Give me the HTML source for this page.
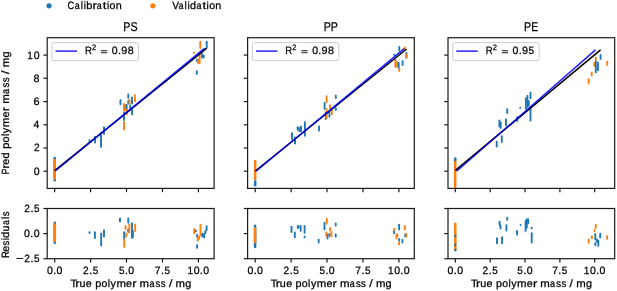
<!DOCTYPE html>
<html><head><meta charset="utf-8"><style>
html,body{margin:0;padding:0;background:#fff;overflow:hidden;}
svg{display:block;}
text{font-family:"Liberation Sans", sans-serif;text-rendering:geometricPrecision;}
svg{will-change:transform;filter:blur(0.3px);}
</style></head><body>
<svg width="617" height="291" viewBox="0 0 617 291">
<rect width="617" height="291" fill="#fff"/>
<clipPath id="cm0"><rect x="47.2" y="37.7" width="166.90" height="150.70"/></clipPath>
<clipPath id="cr0"><rect x="47.2" y="208.5" width="166.90" height="50.20"/></clipPath>
<clipPath id="cm1"><rect x="247.6" y="37.7" width="166.70" height="150.70"/></clipPath>
<clipPath id="cr1"><rect x="247.6" y="208.5" width="166.70" height="50.20"/></clipPath>
<clipPath id="cm2"><rect x="448.0" y="37.7" width="166.70" height="150.70"/></clipPath>
<clipPath id="cr2"><rect x="448.0" y="208.5" width="166.70" height="50.20"/></clipPath>
<g clip-path="url(#cm0)" stroke-width="1.9" stroke-linecap="round">
<line x1="54.7" y1="157.9" x2="54.7" y2="180.2" stroke="#1f77b4" stroke-width="2.5"/>
<line x1="54.7" y1="160.3" x2="54.7" y2="178.5" stroke="#ff7f0e" stroke-width="2.5"/>
<line x1="89.5" y1="140.1" x2="89.5" y2="140.9" stroke="#1f77b4"/>
<line x1="95.1" y1="136.7" x2="95.1" y2="142.6" stroke="#1f77b4"/>
<line x1="101.0" y1="133.2" x2="101.0" y2="146.9" stroke="#1f77b4"/>
<line x1="104.0" y1="127.2" x2="104.0" y2="134.1" stroke="#1f77b4"/>
<line x1="120.5" y1="100.3" x2="120.5" y2="104.3" stroke="#1f77b4"/>
<line x1="124.0" y1="112.6" x2="124.0" y2="120.1" stroke="#1f77b4"/>
<line x1="124.0" y1="121.9" x2="124.0" y2="129.6" stroke="#ff7f0e"/>
<line x1="124.0" y1="103.9" x2="124.0" y2="110.8" stroke="#ff7f0e"/>
<line x1="125.1" y1="104.6" x2="125.1" y2="108.6" stroke="#ff7f0e"/>
<line x1="126.6" y1="104.9" x2="126.6" y2="110.1" stroke="#1f77b4"/>
<line x1="126.6" y1="109.7" x2="126.6" y2="114.4" stroke="#ff7f0e"/>
<line x1="128.3" y1="94.5" x2="128.3" y2="97.8" stroke="#1f77b4"/>
<line x1="128.3" y1="100.9" x2="128.3" y2="103.6" stroke="#1f77b4"/>
<line x1="129.5" y1="99.6" x2="129.5" y2="103.6" stroke="#ff7f0e"/>
<line x1="130.2" y1="105.4" x2="130.2" y2="107.9" stroke="#1f77b4"/>
<line x1="132.0" y1="97.4" x2="132.0" y2="103.6" stroke="#1f77b4"/>
<line x1="132.0" y1="109.7" x2="132.0" y2="114.4" stroke="#1f77b4"/>
<line x1="134.9" y1="95.2" x2="134.9" y2="101.4" stroke="#ff7f0e"/>
<line x1="194.1" y1="52.6" x2="194.1" y2="52.9" stroke="#ff7f0e"/>
<line x1="197.1" y1="59.4" x2="197.1" y2="61.1" stroke="#1f77b4"/>
<line x1="196.8" y1="71.1" x2="196.8" y2="74.1" stroke="#1f77b4"/>
<line x1="198.2" y1="59.4" x2="198.2" y2="63.1" stroke="#ff7f0e"/>
<line x1="199.6" y1="52.6" x2="199.6" y2="63.1" stroke="#ff7f0e"/>
<line x1="200.3" y1="41.6" x2="200.3" y2="48.1" stroke="#ff7f0e"/>
<line x1="201.6" y1="51.9" x2="201.6" y2="53.5" stroke="#1f77b4"/>
<line x1="202.0" y1="54.7" x2="202.0" y2="57.6" stroke="#1f77b4"/>
<line x1="203.7" y1="55.4" x2="203.7" y2="57.6" stroke="#1f77b4"/>
<line x1="206.7" y1="41.6" x2="206.7" y2="47.4" stroke="#1f77b4"/>
</g>
<line x1="54.7" y1="170.6" x2="206.8" y2="48.2" stroke="#000" stroke-width="1.5"/>
<line x1="55.3" y1="171.0" x2="204.4" y2="48.3" stroke="#0000ff" stroke-width="1.5" stroke-opacity="0.88"/>
<g clip-path="url(#cr0)" stroke-width="1.9" stroke-linecap="round">
<line x1="54.8" y1="222.8" x2="54.8" y2="242.7" stroke="#1f77b4" stroke-width="2.5"/>
<line x1="54.8" y1="224.6" x2="54.8" y2="240.9" stroke="#ff7f0e" stroke-width="2.5"/>
<line x1="89.5" y1="232.2" x2="89.5" y2="233.1" stroke="#1f77b4"/>
<line x1="94.9" y1="232.2" x2="94.9" y2="237.9" stroke="#1f77b4"/>
<line x1="101.2" y1="233.5" x2="101.2" y2="245.5" stroke="#1f77b4"/>
<line x1="104.0" y1="230.1" x2="104.0" y2="236.5" stroke="#1f77b4"/>
<line x1="120.0" y1="218.4" x2="120.0" y2="221.4" stroke="#1f77b4"/>
<line x1="124.2" y1="232.2" x2="124.2" y2="239.3" stroke="#1f77b4"/>
<line x1="128.3" y1="218.4" x2="128.3" y2="222.8" stroke="#1f77b4"/>
<line x1="128.3" y1="229.4" x2="128.3" y2="231.7" stroke="#1f77b4"/>
<line x1="132.0" y1="223.2" x2="132.0" y2="237.9" stroke="#1f77b4"/>
<line x1="132.9" y1="230.9" x2="132.9" y2="237.1" stroke="#1f77b4"/>
<line x1="124.2" y1="239.7" x2="124.2" y2="246.9" stroke="#ff7f0e"/>
<line x1="125.6" y1="225.9" x2="125.6" y2="229.1" stroke="#ff7f0e"/>
<line x1="126.3" y1="233.5" x2="126.3" y2="236.5" stroke="#ff7f0e"/>
<line x1="129.3" y1="224.6" x2="129.3" y2="232.4" stroke="#ff7f0e"/>
<line x1="135.2" y1="224.6" x2="135.2" y2="231.1" stroke="#ff7f0e"/>
<line x1="195.8" y1="230.5" x2="195.8" y2="231.3" stroke="#1f77b4"/>
<line x1="197.1" y1="235.0" x2="197.1" y2="236.4" stroke="#1f77b4"/>
<line x1="197.1" y1="245.2" x2="197.1" y2="247.8" stroke="#1f77b4"/>
<line x1="202.2" y1="233.7" x2="202.2" y2="236.4" stroke="#1f77b4"/>
<line x1="204.1" y1="233.7" x2="204.1" y2="237.6" stroke="#1f77b4"/>
<line x1="205.4" y1="230.9" x2="205.4" y2="233.1" stroke="#1f77b4"/>
<line x1="206.6" y1="226.1" x2="206.6" y2="230.0" stroke="#1f77b4"/>
<line x1="194.2" y1="229.3" x2="194.2" y2="233.2" stroke="#ff7f0e"/>
<line x1="197.7" y1="236.9" x2="197.7" y2="240.8" stroke="#ff7f0e"/>
<line x1="199.0" y1="236.3" x2="199.0" y2="238.9" stroke="#ff7f0e"/>
<line x1="200.5" y1="224.8" x2="200.5" y2="235.1" stroke="#ff7f0e"/>
</g>
<g clip-path="url(#cm1)" stroke-width="1.9" stroke-linecap="round">
<line x1="255.2" y1="160.9" x2="255.2" y2="179.3" stroke="#ff7f0e" stroke-width="2.5"/>
<line x1="255.2" y1="181.5" x2="255.2" y2="185.3" stroke="#1f77b4" stroke-width="2.5"/>
<line x1="292.0" y1="133.2" x2="292.0" y2="139.1" stroke="#1f77b4"/>
<line x1="295.0" y1="137.5" x2="295.0" y2="143.5" stroke="#1f77b4"/>
<line x1="295.0" y1="140.9" x2="295.0" y2="143.1" stroke="#1f77b4"/>
<line x1="297.7" y1="127.2" x2="297.7" y2="129.7" stroke="#1f77b4"/>
<line x1="299.2" y1="127.9" x2="299.2" y2="131.1" stroke="#1f77b4"/>
<line x1="301.0" y1="126.4" x2="301.0" y2="131.4" stroke="#1f77b4"/>
<line x1="304.9" y1="122.1" x2="304.9" y2="135.7" stroke="#1f77b4"/>
<line x1="319.0" y1="126.4" x2="319.0" y2="130.5" stroke="#1f77b4"/>
<line x1="324.6" y1="102.9" x2="324.6" y2="108.9" stroke="#1f77b4"/>
<line x1="325.8" y1="112.5" x2="325.8" y2="119.1" stroke="#1f77b4"/>
<line x1="326.6" y1="96.3" x2="326.6" y2="102.3" stroke="#ff7f0e"/>
<line x1="326.6" y1="108.9" x2="326.6" y2="117.9" stroke="#ff7f0e"/>
<line x1="329.4" y1="112.5" x2="329.4" y2="116.7" stroke="#1f77b4"/>
<line x1="330.0" y1="105.3" x2="330.0" y2="108.3" stroke="#ff7f0e"/>
<line x1="331.8" y1="110.7" x2="331.8" y2="114.3" stroke="#ff7f0e"/>
<line x1="335.8" y1="95.7" x2="335.8" y2="98.1" stroke="#1f77b4"/>
<line x1="335.8" y1="108.3" x2="335.8" y2="110.1" stroke="#1f77b4"/>
<line x1="394.3" y1="54.7" x2="394.3" y2="55.1" stroke="#1f77b4"/>
<line x1="395.4" y1="59.6" x2="395.4" y2="67.1" stroke="#ff7f0e"/>
<line x1="397.0" y1="61.9" x2="397.0" y2="66.6" stroke="#ff7f0e"/>
<line x1="399.3" y1="46.9" x2="399.3" y2="50.6" stroke="#1f77b4"/>
<line x1="398.7" y1="62.9" x2="398.7" y2="67.7" stroke="#1f77b4"/>
<line x1="399.3" y1="68.9" x2="399.3" y2="71.1" stroke="#ff7f0e"/>
<line x1="402.6" y1="61.3" x2="402.6" y2="65.0" stroke="#1f77b4"/>
<line x1="404.8" y1="47.5" x2="404.8" y2="50.1" stroke="#ff7f0e"/>
<line x1="406.4" y1="53.0" x2="406.4" y2="57.8" stroke="#1f77b4"/>
<line x1="406.6" y1="54.4" x2="406.6" y2="57.1" stroke="#ff7f0e"/>
</g>
<line x1="255.3" y1="171.0" x2="406.6" y2="49.0" stroke="#000" stroke-width="1.5"/>
<line x1="255.7" y1="171.5" x2="404.2" y2="48.7" stroke="#0000ff" stroke-width="1.5" stroke-opacity="0.88"/>
<g clip-path="url(#cr1)" stroke-width="1.9" stroke-linecap="round">
<line x1="255.1" y1="225.7" x2="255.1" y2="247.0" stroke="#1f77b4" stroke-width="2.5"/>
<line x1="255.1" y1="228.6" x2="255.1" y2="242.1" stroke="#ff7f0e" stroke-width="2.5"/>
<line x1="291.5" y1="226.6" x2="291.5" y2="232.0" stroke="#1f77b4"/>
<line x1="294.8" y1="232.5" x2="294.8" y2="237.2" stroke="#1f77b4"/>
<line x1="297.8" y1="225.9" x2="297.8" y2="228.1" stroke="#1f77b4"/>
<line x1="298.6" y1="226.4" x2="298.6" y2="227.6" stroke="#1f77b4"/>
<line x1="300.7" y1="225.9" x2="300.7" y2="230.7" stroke="#1f77b4"/>
<line x1="304.6" y1="225.9" x2="304.6" y2="232.7" stroke="#1f77b4"/>
<line x1="304.6" y1="236.4" x2="304.6" y2="237.2" stroke="#1f77b4"/>
<line x1="318.7" y1="239.7" x2="318.7" y2="242.5" stroke="#1f77b4"/>
<line x1="324.5" y1="222.7" x2="324.5" y2="229.4" stroke="#1f77b4"/>
<line x1="327.5" y1="234.5" x2="327.5" y2="238.6" stroke="#1f77b4"/>
<line x1="329.4" y1="233.9" x2="329.4" y2="236.1" stroke="#1f77b4"/>
<line x1="335.7" y1="223.4" x2="335.7" y2="225.5" stroke="#1f77b4"/>
<line x1="335.7" y1="234.5" x2="335.7" y2="236.6" stroke="#1f77b4"/>
<line x1="326.8" y1="218.8" x2="326.8" y2="223.5" stroke="#ff7f0e"/>
<line x1="326.3" y1="232.5" x2="326.3" y2="235.9" stroke="#ff7f0e"/>
<line x1="330.1" y1="227.9" x2="330.1" y2="230.7" stroke="#ff7f0e"/>
<line x1="331.4" y1="231.9" x2="331.4" y2="236.6" stroke="#ff7f0e"/>
<line x1="394.1" y1="231.2" x2="394.1" y2="233.3" stroke="#1f77b4"/>
<line x1="399.1" y1="224.6" x2="399.1" y2="229.4" stroke="#1f77b4"/>
<line x1="399.1" y1="239.0" x2="399.1" y2="240.5" stroke="#1f77b4"/>
<line x1="402.4" y1="239.7" x2="402.4" y2="242.4" stroke="#1f77b4"/>
<line x1="405.2" y1="234.4" x2="405.2" y2="236.6" stroke="#1f77b4"/>
<line x1="394.4" y1="228.6" x2="394.4" y2="230.0" stroke="#ff7f0e"/>
<line x1="396.5" y1="234.4" x2="396.5" y2="238.5" stroke="#ff7f0e"/>
<line x1="397.4" y1="234.4" x2="397.4" y2="236.1" stroke="#ff7f0e"/>
<line x1="399.1" y1="242.3" x2="399.1" y2="244.4" stroke="#ff7f0e"/>
<line x1="404.8" y1="225.9" x2="404.8" y2="229.4" stroke="#ff7f0e"/>
<line x1="406.3" y1="233.8" x2="406.3" y2="236.6" stroke="#ff7f0e"/>
</g>
<g clip-path="url(#cm2)" stroke-width="1.9" stroke-linecap="round">
<line x1="455.2" y1="160.0" x2="455.2" y2="187.0" stroke="#ff7f0e" stroke-width="2.5"/>
<line x1="455.2" y1="158.6" x2="455.2" y2="159.9" stroke="#1f77b4" stroke-width="2.5"/>
<line x1="496.7" y1="141.7" x2="496.7" y2="146.6" stroke="#1f77b4"/>
<line x1="499.4" y1="120.5" x2="499.4" y2="126.5" stroke="#1f77b4"/>
<line x1="500.7" y1="122.4" x2="500.7" y2="128.1" stroke="#1f77b4"/>
<line x1="501.8" y1="136.1" x2="501.8" y2="142.1" stroke="#1f77b4"/>
<line x1="506.0" y1="119.4" x2="506.0" y2="125.4" stroke="#1f77b4"/>
<line x1="507.2" y1="109.3" x2="507.2" y2="113.1" stroke="#1f77b4"/>
<line x1="517.2" y1="117.1" x2="517.2" y2="120.9" stroke="#1f77b4"/>
<line x1="520.2" y1="107.8" x2="520.2" y2="107.8" stroke="#1f77b4"/>
<line x1="525.9" y1="98.2" x2="525.9" y2="108.7" stroke="#1f77b4"/>
<line x1="527.4" y1="95.7" x2="527.4" y2="106.9" stroke="#1f77b4"/>
<line x1="528.8" y1="101.3" x2="528.8" y2="105.6" stroke="#1f77b4"/>
<line x1="530.5" y1="92.6" x2="530.5" y2="98.2" stroke="#1f77b4"/>
<line x1="530.5" y1="107.4" x2="530.5" y2="120.5" stroke="#1f77b4"/>
<line x1="588.6" y1="79.3" x2="588.6" y2="83.6" stroke="#ff7f0e"/>
<line x1="591.7" y1="72.6" x2="591.7" y2="75.4" stroke="#ff7f0e"/>
<line x1="594.4" y1="62.7" x2="594.4" y2="66.1" stroke="#ff7f0e"/>
<line x1="595.8" y1="60.7" x2="595.8" y2="72.3" stroke="#1f77b4"/>
<line x1="595.8" y1="57.6" x2="595.8" y2="59.9" stroke="#ff7f0e"/>
<line x1="597.9" y1="62.7" x2="597.9" y2="70.2" stroke="#1f77b4"/>
<line x1="600.6" y1="54.9" x2="600.6" y2="58.9" stroke="#1f77b4"/>
<line x1="607.2" y1="61.7" x2="607.2" y2="65.1" stroke="#ff7f0e"/>
</g>
<line x1="455.4" y1="170.4" x2="600.6" y2="49.9" stroke="#000" stroke-width="1.5"/>
<line x1="456.6" y1="171.3" x2="595.5" y2="49.9" stroke="#0000ff" stroke-width="1.5" stroke-opacity="0.88"/>
<g clip-path="url(#cr2)" stroke-width="1.9" stroke-linecap="round">
<line x1="455.3" y1="223.7" x2="455.3" y2="249.9" stroke="#ff7f0e" stroke-width="2.5"/>
<line x1="455.3" y1="236.0" x2="455.3" y2="236.0" stroke="#1f77b4" stroke-width="2.5"/>
<line x1="455.3" y1="244.8" x2="455.3" y2="244.8" stroke="#1f77b4" stroke-width="2.5"/>
<line x1="455.3" y1="250.0" x2="455.3" y2="250.0" stroke="#1f77b4" stroke-width="2.5"/>
<line x1="497.0" y1="238.3" x2="497.0" y2="243.3" stroke="#1f77b4"/>
<line x1="499.6" y1="221.6" x2="499.6" y2="224.7" stroke="#1f77b4"/>
<line x1="500.5" y1="225.5" x2="500.5" y2="228.6" stroke="#1f77b4"/>
<line x1="502.1" y1="237.3" x2="502.1" y2="243.3" stroke="#1f77b4"/>
<line x1="506.4" y1="225.1" x2="506.4" y2="230.6" stroke="#1f77b4"/>
<line x1="507.2" y1="217.7" x2="507.2" y2="219.8" stroke="#1f77b4"/>
<line x1="517.0" y1="231.0" x2="517.0" y2="234.5" stroke="#1f77b4"/>
<line x1="520.6" y1="225.0" x2="520.6" y2="225.0" stroke="#1f77b4"/>
<line x1="525.6" y1="220.9" x2="525.6" y2="230.9" stroke="#1f77b4"/>
<line x1="526.8" y1="219.1" x2="526.8" y2="227.8" stroke="#1f77b4"/>
<line x1="528.2" y1="219.1" x2="528.2" y2="223.4" stroke="#1f77b4"/>
<line x1="531.7" y1="227.7" x2="531.7" y2="228.4" stroke="#1f77b4"/>
<line x1="531.7" y1="233.3" x2="531.7" y2="242.6" stroke="#1f77b4"/>
<line x1="595.3" y1="234.3" x2="595.3" y2="239.5" stroke="#1f77b4"/>
<line x1="595.3" y1="243.3" x2="595.3" y2="245.3" stroke="#1f77b4"/>
<line x1="597.0" y1="239.4" x2="597.0" y2="242.1" stroke="#1f77b4"/>
<line x1="598.3" y1="240.7" x2="598.3" y2="245.9" stroke="#1f77b4"/>
<line x1="600.2" y1="233.7" x2="600.2" y2="237.6" stroke="#1f77b4"/>
<line x1="588.7" y1="239.4" x2="588.7" y2="242.7" stroke="#ff7f0e"/>
<line x1="591.9" y1="236.3" x2="591.9" y2="238.3" stroke="#ff7f0e"/>
<line x1="594.5" y1="229.9" x2="594.5" y2="231.3" stroke="#ff7f0e"/>
<line x1="595.7" y1="224.8" x2="595.7" y2="228.1" stroke="#ff7f0e"/>
<line x1="607.2" y1="236.3" x2="607.2" y2="238.9" stroke="#ff7f0e"/>
</g>
<rect x="47.2" y="37.7" width="166.90" height="150.70" fill="none" stroke="#1a1a1a" stroke-width="1.2"/>
<rect x="47.2" y="208.5" width="166.90" height="50.20" fill="none" stroke="#1a1a1a" stroke-width="1.2"/>
<line x1="54.7" y1="188.4" x2="54.7" y2="192.20000000000002" stroke="#1a1a1a" stroke-width="1.2"/>
<line x1="54.7" y1="258.7" x2="54.7" y2="262.5" stroke="#1a1a1a" stroke-width="1.2"/>
<line x1="90.6" y1="188.4" x2="90.6" y2="192.20000000000002" stroke="#1a1a1a" stroke-width="1.2"/>
<line x1="90.6" y1="258.7" x2="90.6" y2="262.5" stroke="#1a1a1a" stroke-width="1.2"/>
<line x1="126.5" y1="188.4" x2="126.5" y2="192.20000000000002" stroke="#1a1a1a" stroke-width="1.2"/>
<line x1="126.5" y1="258.7" x2="126.5" y2="262.5" stroke="#1a1a1a" stroke-width="1.2"/>
<line x1="162.5" y1="188.4" x2="162.5" y2="192.20000000000002" stroke="#1a1a1a" stroke-width="1.2"/>
<line x1="162.5" y1="258.7" x2="162.5" y2="262.5" stroke="#1a1a1a" stroke-width="1.2"/>
<line x1="198.4" y1="188.4" x2="198.4" y2="192.20000000000002" stroke="#1a1a1a" stroke-width="1.2"/>
<line x1="198.4" y1="258.7" x2="198.4" y2="262.5" stroke="#1a1a1a" stroke-width="1.2"/>
<line x1="43.40" y1="171.2" x2="47.2" y2="171.2" stroke="#1a1a1a" stroke-width="1.2"/>
<line x1="43.40" y1="148.0" x2="47.2" y2="148.0" stroke="#1a1a1a" stroke-width="1.2"/>
<line x1="43.40" y1="124.8" x2="47.2" y2="124.8" stroke="#1a1a1a" stroke-width="1.2"/>
<line x1="43.40" y1="101.6" x2="47.2" y2="101.6" stroke="#1a1a1a" stroke-width="1.2"/>
<line x1="43.40" y1="78.3" x2="47.2" y2="78.3" stroke="#1a1a1a" stroke-width="1.2"/>
<line x1="43.40" y1="55.1" x2="47.2" y2="55.1" stroke="#1a1a1a" stroke-width="1.2"/>
<line x1="43.40" y1="258.7" x2="47.2" y2="258.7" stroke="#1a1a1a" stroke-width="1.2"/>
<line x1="43.40" y1="233.6" x2="47.2" y2="233.6" stroke="#1a1a1a" stroke-width="1.2"/>
<line x1="43.40" y1="208.5" x2="47.2" y2="208.5" stroke="#1a1a1a" stroke-width="1.2"/>
<rect x="247.6" y="37.7" width="166.70" height="150.70" fill="none" stroke="#1a1a1a" stroke-width="1.2"/>
<rect x="247.6" y="208.5" width="166.70" height="50.20" fill="none" stroke="#1a1a1a" stroke-width="1.2"/>
<line x1="255.2" y1="188.4" x2="255.2" y2="192.20000000000002" stroke="#1a1a1a" stroke-width="1.2"/>
<line x1="255.2" y1="258.7" x2="255.2" y2="262.5" stroke="#1a1a1a" stroke-width="1.2"/>
<line x1="291.1" y1="188.4" x2="291.1" y2="192.20000000000002" stroke="#1a1a1a" stroke-width="1.2"/>
<line x1="291.1" y1="258.7" x2="291.1" y2="262.5" stroke="#1a1a1a" stroke-width="1.2"/>
<line x1="327.0" y1="188.4" x2="327.0" y2="192.20000000000002" stroke="#1a1a1a" stroke-width="1.2"/>
<line x1="327.0" y1="258.7" x2="327.0" y2="262.5" stroke="#1a1a1a" stroke-width="1.2"/>
<line x1="363.0" y1="188.4" x2="363.0" y2="192.20000000000002" stroke="#1a1a1a" stroke-width="1.2"/>
<line x1="363.0" y1="258.7" x2="363.0" y2="262.5" stroke="#1a1a1a" stroke-width="1.2"/>
<line x1="398.9" y1="188.4" x2="398.9" y2="192.20000000000002" stroke="#1a1a1a" stroke-width="1.2"/>
<line x1="398.9" y1="258.7" x2="398.9" y2="262.5" stroke="#1a1a1a" stroke-width="1.2"/>
<line x1="243.80" y1="171.2" x2="247.6" y2="171.2" stroke="#1a1a1a" stroke-width="1.2"/>
<line x1="243.80" y1="148.0" x2="247.6" y2="148.0" stroke="#1a1a1a" stroke-width="1.2"/>
<line x1="243.80" y1="124.8" x2="247.6" y2="124.8" stroke="#1a1a1a" stroke-width="1.2"/>
<line x1="243.80" y1="101.6" x2="247.6" y2="101.6" stroke="#1a1a1a" stroke-width="1.2"/>
<line x1="243.80" y1="78.3" x2="247.6" y2="78.3" stroke="#1a1a1a" stroke-width="1.2"/>
<line x1="243.80" y1="55.1" x2="247.6" y2="55.1" stroke="#1a1a1a" stroke-width="1.2"/>
<line x1="243.80" y1="258.7" x2="247.6" y2="258.7" stroke="#1a1a1a" stroke-width="1.2"/>
<line x1="243.80" y1="233.6" x2="247.6" y2="233.6" stroke="#1a1a1a" stroke-width="1.2"/>
<line x1="243.80" y1="208.5" x2="247.6" y2="208.5" stroke="#1a1a1a" stroke-width="1.2"/>
<rect x="448.0" y="37.7" width="166.70" height="150.70" fill="none" stroke="#1a1a1a" stroke-width="1.2"/>
<rect x="448.0" y="208.5" width="166.70" height="50.20" fill="none" stroke="#1a1a1a" stroke-width="1.2"/>
<line x1="455.3" y1="188.4" x2="455.3" y2="192.20000000000002" stroke="#1a1a1a" stroke-width="1.2"/>
<line x1="455.3" y1="258.7" x2="455.3" y2="262.5" stroke="#1a1a1a" stroke-width="1.2"/>
<line x1="490.2" y1="188.4" x2="490.2" y2="192.20000000000002" stroke="#1a1a1a" stroke-width="1.2"/>
<line x1="490.2" y1="258.7" x2="490.2" y2="262.5" stroke="#1a1a1a" stroke-width="1.2"/>
<line x1="525.0" y1="188.4" x2="525.0" y2="192.20000000000002" stroke="#1a1a1a" stroke-width="1.2"/>
<line x1="525.0" y1="258.7" x2="525.0" y2="262.5" stroke="#1a1a1a" stroke-width="1.2"/>
<line x1="559.9" y1="188.4" x2="559.9" y2="192.20000000000002" stroke="#1a1a1a" stroke-width="1.2"/>
<line x1="559.9" y1="258.7" x2="559.9" y2="262.5" stroke="#1a1a1a" stroke-width="1.2"/>
<line x1="594.7" y1="188.4" x2="594.7" y2="192.20000000000002" stroke="#1a1a1a" stroke-width="1.2"/>
<line x1="594.7" y1="258.7" x2="594.7" y2="262.5" stroke="#1a1a1a" stroke-width="1.2"/>
<line x1="444.20" y1="171.2" x2="448.0" y2="171.2" stroke="#1a1a1a" stroke-width="1.2"/>
<line x1="444.20" y1="148.0" x2="448.0" y2="148.0" stroke="#1a1a1a" stroke-width="1.2"/>
<line x1="444.20" y1="124.8" x2="448.0" y2="124.8" stroke="#1a1a1a" stroke-width="1.2"/>
<line x1="444.20" y1="101.6" x2="448.0" y2="101.6" stroke="#1a1a1a" stroke-width="1.2"/>
<line x1="444.20" y1="78.3" x2="448.0" y2="78.3" stroke="#1a1a1a" stroke-width="1.2"/>
<line x1="444.20" y1="55.1" x2="448.0" y2="55.1" stroke="#1a1a1a" stroke-width="1.2"/>
<line x1="444.20" y1="258.7" x2="448.0" y2="258.7" stroke="#1a1a1a" stroke-width="1.2"/>
<line x1="444.20" y1="233.6" x2="448.0" y2="233.6" stroke="#1a1a1a" stroke-width="1.2"/>
<line x1="444.20" y1="208.5" x2="448.0" y2="208.5" stroke="#1a1a1a" stroke-width="1.2"/>
<g font-family="'Liberation Sans', sans-serif" fill="#000" stroke="#000" stroke-width="0.25">
<text y="273.85" font-size="10.60" ><tspan x="47.00" textLength="5.86" lengthAdjust="spacingAndGlyphs">0</tspan><tspan x="53.19" textLength="3.01" lengthAdjust="spacingAndGlyphs">.</tspan><tspan x="56.54" textLength="5.86" lengthAdjust="spacingAndGlyphs">0</tspan></text>
<text y="273.85" font-size="10.60" ><tspan x="82.97" textLength="5.65" lengthAdjust="spacingAndGlyphs">2</tspan><tspan x="89.19" textLength="3.01" lengthAdjust="spacingAndGlyphs">.</tspan><tspan x="92.66" textLength="5.53" lengthAdjust="spacingAndGlyphs">5</tspan></text>
<text y="273.85" font-size="10.60" ><tspan x="118.92" textLength="5.53" lengthAdjust="spacingAndGlyphs">5</tspan><tspan x="124.99" textLength="3.01" lengthAdjust="spacingAndGlyphs">.</tspan><tspan x="128.33" textLength="5.86" lengthAdjust="spacingAndGlyphs">0</tspan></text>
<text y="273.85" font-size="10.60" ><tspan x="154.84" textLength="5.73" lengthAdjust="spacingAndGlyphs">7</tspan><tspan x="160.99" textLength="3.01" lengthAdjust="spacingAndGlyphs">.</tspan><tspan x="164.46" textLength="5.53" lengthAdjust="spacingAndGlyphs">5</tspan></text>
<text y="273.85" font-size="10.60" ><tspan x="187.38" textLength="5.60" lengthAdjust="spacingAndGlyphs">1</tspan><tspan x="193.66" textLength="5.86" lengthAdjust="spacingAndGlyphs">0</tspan><tspan x="199.86" textLength="3.01" lengthAdjust="spacingAndGlyphs">.</tspan><tspan x="203.20" textLength="5.86" lengthAdjust="spacingAndGlyphs">0</tspan></text>
<text y="273.85" font-size="10.60" ><tspan x="247.50" textLength="5.86" lengthAdjust="spacingAndGlyphs">0</tspan><tspan x="253.69" textLength="3.01" lengthAdjust="spacingAndGlyphs">.</tspan><tspan x="257.04" textLength="5.86" lengthAdjust="spacingAndGlyphs">0</tspan></text>
<text y="273.85" font-size="10.60" ><tspan x="283.47" textLength="5.65" lengthAdjust="spacingAndGlyphs">2</tspan><tspan x="289.69" textLength="3.01" lengthAdjust="spacingAndGlyphs">.</tspan><tspan x="293.16" textLength="5.53" lengthAdjust="spacingAndGlyphs">5</tspan></text>
<text y="273.85" font-size="10.60" ><tspan x="319.42" textLength="5.53" lengthAdjust="spacingAndGlyphs">5</tspan><tspan x="325.49" textLength="3.01" lengthAdjust="spacingAndGlyphs">.</tspan><tspan x="328.83" textLength="5.86" lengthAdjust="spacingAndGlyphs">0</tspan></text>
<text y="273.85" font-size="10.60" ><tspan x="355.34" textLength="5.73" lengthAdjust="spacingAndGlyphs">7</tspan><tspan x="361.49" textLength="3.01" lengthAdjust="spacingAndGlyphs">.</tspan><tspan x="364.96" textLength="5.53" lengthAdjust="spacingAndGlyphs">5</tspan></text>
<text y="273.85" font-size="10.60" ><tspan x="387.88" textLength="5.60" lengthAdjust="spacingAndGlyphs">1</tspan><tspan x="394.16" textLength="5.86" lengthAdjust="spacingAndGlyphs">0</tspan><tspan x="400.36" textLength="3.01" lengthAdjust="spacingAndGlyphs">.</tspan><tspan x="403.70" textLength="5.86" lengthAdjust="spacingAndGlyphs">0</tspan></text>
<text y="273.85" font-size="10.60" ><tspan x="447.60" textLength="5.86" lengthAdjust="spacingAndGlyphs">0</tspan><tspan x="453.79" textLength="3.01" lengthAdjust="spacingAndGlyphs">.</tspan><tspan x="457.14" textLength="5.86" lengthAdjust="spacingAndGlyphs">0</tspan></text>
<text y="273.85" font-size="10.60" ><tspan x="482.49" textLength="5.65" lengthAdjust="spacingAndGlyphs">2</tspan><tspan x="488.71" textLength="3.01" lengthAdjust="spacingAndGlyphs">.</tspan><tspan x="492.18" textLength="5.53" lengthAdjust="spacingAndGlyphs">5</tspan></text>
<text y="273.85" font-size="10.60" ><tspan x="517.37" textLength="5.53" lengthAdjust="spacingAndGlyphs">5</tspan><tspan x="523.44" textLength="3.01" lengthAdjust="spacingAndGlyphs">.</tspan><tspan x="526.78" textLength="5.86" lengthAdjust="spacingAndGlyphs">0</tspan></text>
<text y="273.85" font-size="10.60" ><tspan x="552.22" textLength="5.73" lengthAdjust="spacingAndGlyphs">7</tspan><tspan x="558.37" textLength="3.01" lengthAdjust="spacingAndGlyphs">.</tspan><tspan x="561.84" textLength="5.53" lengthAdjust="spacingAndGlyphs">5</tspan></text>
<text y="273.85" font-size="10.60" ><tspan x="583.68" textLength="5.60" lengthAdjust="spacingAndGlyphs">1</tspan><tspan x="589.96" textLength="5.86" lengthAdjust="spacingAndGlyphs">0</tspan><tspan x="596.16" textLength="3.01" lengthAdjust="spacingAndGlyphs">.</tspan><tspan x="599.50" textLength="5.86" lengthAdjust="spacingAndGlyphs">0</tspan></text>
<text y="174.70" font-size="10.60" ><tspan x="33.65" textLength="5.86" lengthAdjust="spacingAndGlyphs">0</tspan></text>
<text y="151.47" font-size="10.60" ><tspan x="33.96" textLength="5.65" lengthAdjust="spacingAndGlyphs">2</tspan></text>
<text y="128.24" font-size="10.60" ><tspan x="33.55" textLength="5.86" lengthAdjust="spacingAndGlyphs">4</tspan></text>
<text y="105.01" font-size="10.60" ><tspan x="33.51" textLength="6.07" lengthAdjust="spacingAndGlyphs">6</tspan></text>
<text y="81.78" font-size="10.60" ><tspan x="33.64" textLength="5.93" lengthAdjust="spacingAndGlyphs">8</tspan></text>
<text y="58.55" font-size="10.60" ><tspan x="27.37" textLength="5.60" lengthAdjust="spacingAndGlyphs">1</tspan><tspan x="33.65" textLength="5.86" lengthAdjust="spacingAndGlyphs">0</tspan></text>
<text y="262.15" font-size="10.60" ><tspan x="16.12" textLength="7.52" lengthAdjust="spacingAndGlyphs">−</tspan><tspan x="24.29" textLength="5.65" lengthAdjust="spacingAndGlyphs">2</tspan><tspan x="30.51" textLength="3.01" lengthAdjust="spacingAndGlyphs">.</tspan><tspan x="33.98" textLength="5.53" lengthAdjust="spacingAndGlyphs">5</tspan></text>
<text y="237.05" font-size="10.60" ><tspan x="24.11" textLength="5.86" lengthAdjust="spacingAndGlyphs">0</tspan><tspan x="30.30" textLength="3.01" lengthAdjust="spacingAndGlyphs">.</tspan><tspan x="33.65" textLength="5.86" lengthAdjust="spacingAndGlyphs">0</tspan></text>
<text y="211.95" font-size="10.60" ><tspan x="24.29" textLength="5.65" lengthAdjust="spacingAndGlyphs">2</tspan><tspan x="30.51" textLength="3.01" lengthAdjust="spacingAndGlyphs">.</tspan><tspan x="33.98" textLength="5.53" lengthAdjust="spacingAndGlyphs">5</tspan></text>
<text y="31.3" font-size="12.72" ><tspan x="123.28" textLength="7.08" lengthAdjust="spacingAndGlyphs">P</tspan><tspan x="130.51" textLength="7.13" lengthAdjust="spacingAndGlyphs">S</tspan></text>
<text y="31.3" font-size="12.72" ><tspan x="323.64" textLength="7.08" lengthAdjust="spacingAndGlyphs">P</tspan><tspan x="330.87" textLength="7.08" lengthAdjust="spacingAndGlyphs">P</tspan></text>
<text y="31.3" font-size="12.72" ><tspan x="524.04" textLength="7.08" lengthAdjust="spacingAndGlyphs">P</tspan><tspan x="531.30" textLength="6.94" lengthAdjust="spacingAndGlyphs">E</tspan></text>
<text y="286.9" font-size="10.60" ><tspan x="70.41" textLength="6.66" lengthAdjust="spacingAndGlyphs">T</tspan><tspan x="75.38" textLength="4.27" lengthAdjust="spacingAndGlyphs">r</tspan><tspan x="79.58" textLength="6.00" lengthAdjust="spacingAndGlyphs">u</tspan><tspan x="85.86" textLength="6.01" lengthAdjust="spacingAndGlyphs">e</tspan> <tspan x="95.31" textLength="6.05" lengthAdjust="spacingAndGlyphs">p</tspan><tspan x="101.56" textLength="5.91" lengthAdjust="spacingAndGlyphs">o</tspan><tspan x="107.82" textLength="2.27" lengthAdjust="spacingAndGlyphs">l</tspan><tspan x="110.62" textLength="5.37" lengthAdjust="spacingAndGlyphs">y</tspan><tspan x="116.42" textLength="9.49" lengthAdjust="spacingAndGlyphs">m</tspan><tspan x="126.10" textLength="6.01" lengthAdjust="spacingAndGlyphs">e</tspan><tspan x="132.22" textLength="4.27" lengthAdjust="spacingAndGlyphs">r</tspan> <tspan x="139.60" textLength="9.49" lengthAdjust="spacingAndGlyphs">m</tspan><tspan x="149.41" textLength="5.00" lengthAdjust="spacingAndGlyphs">a</tspan><tspan x="155.59" textLength="4.79" lengthAdjust="spacingAndGlyphs">s</tspan><tspan x="160.80" textLength="4.79" lengthAdjust="spacingAndGlyphs">s</tspan> <tspan x="168.92" textLength="3.37" lengthAdjust="spacingAndGlyphs">/</tspan> <tspan x="175.62" textLength="9.49" lengthAdjust="spacingAndGlyphs">m</tspan><tspan x="185.30" textLength="6.04" lengthAdjust="spacingAndGlyphs">g</tspan></text>
<text y="286.9" font-size="10.60" ><tspan x="270.71" textLength="6.66" lengthAdjust="spacingAndGlyphs">T</tspan><tspan x="275.68" textLength="4.27" lengthAdjust="spacingAndGlyphs">r</tspan><tspan x="279.88" textLength="6.00" lengthAdjust="spacingAndGlyphs">u</tspan><tspan x="286.16" textLength="6.01" lengthAdjust="spacingAndGlyphs">e</tspan> <tspan x="295.61" textLength="6.05" lengthAdjust="spacingAndGlyphs">p</tspan><tspan x="301.86" textLength="5.91" lengthAdjust="spacingAndGlyphs">o</tspan><tspan x="308.12" textLength="2.27" lengthAdjust="spacingAndGlyphs">l</tspan><tspan x="310.92" textLength="5.37" lengthAdjust="spacingAndGlyphs">y</tspan><tspan x="316.72" textLength="9.49" lengthAdjust="spacingAndGlyphs">m</tspan><tspan x="326.40" textLength="6.01" lengthAdjust="spacingAndGlyphs">e</tspan><tspan x="332.52" textLength="4.27" lengthAdjust="spacingAndGlyphs">r</tspan> <tspan x="339.90" textLength="9.49" lengthAdjust="spacingAndGlyphs">m</tspan><tspan x="349.71" textLength="5.00" lengthAdjust="spacingAndGlyphs">a</tspan><tspan x="355.89" textLength="4.79" lengthAdjust="spacingAndGlyphs">s</tspan><tspan x="361.10" textLength="4.79" lengthAdjust="spacingAndGlyphs">s</tspan> <tspan x="369.22" textLength="3.37" lengthAdjust="spacingAndGlyphs">/</tspan> <tspan x="375.92" textLength="9.49" lengthAdjust="spacingAndGlyphs">m</tspan><tspan x="385.60" textLength="6.04" lengthAdjust="spacingAndGlyphs">g</tspan></text>
<text y="286.9" font-size="10.60" ><tspan x="471.11" textLength="6.66" lengthAdjust="spacingAndGlyphs">T</tspan><tspan x="476.08" textLength="4.27" lengthAdjust="spacingAndGlyphs">r</tspan><tspan x="480.28" textLength="6.00" lengthAdjust="spacingAndGlyphs">u</tspan><tspan x="486.56" textLength="6.01" lengthAdjust="spacingAndGlyphs">e</tspan> <tspan x="496.01" textLength="6.05" lengthAdjust="spacingAndGlyphs">p</tspan><tspan x="502.26" textLength="5.91" lengthAdjust="spacingAndGlyphs">o</tspan><tspan x="508.52" textLength="2.27" lengthAdjust="spacingAndGlyphs">l</tspan><tspan x="511.32" textLength="5.37" lengthAdjust="spacingAndGlyphs">y</tspan><tspan x="517.12" textLength="9.49" lengthAdjust="spacingAndGlyphs">m</tspan><tspan x="526.80" textLength="6.01" lengthAdjust="spacingAndGlyphs">e</tspan><tspan x="532.92" textLength="4.27" lengthAdjust="spacingAndGlyphs">r</tspan> <tspan x="540.30" textLength="9.49" lengthAdjust="spacingAndGlyphs">m</tspan><tspan x="550.11" textLength="5.00" lengthAdjust="spacingAndGlyphs">a</tspan><tspan x="556.29" textLength="4.79" lengthAdjust="spacingAndGlyphs">s</tspan><tspan x="561.50" textLength="4.79" lengthAdjust="spacingAndGlyphs">s</tspan> <tspan x="569.62" textLength="3.37" lengthAdjust="spacingAndGlyphs">/</tspan> <tspan x="576.32" textLength="9.49" lengthAdjust="spacingAndGlyphs">m</tspan><tspan x="586.00" textLength="6.04" lengthAdjust="spacingAndGlyphs">g</tspan></text>
<g transform="translate(9.0,0) rotate(-90)">
<text y="0" font-size="10.60"  transform="translate(1.519,0) scale(1.0135,1)"><tspan x="-173.62" textLength="5.90" lengthAdjust="spacingAndGlyphs">P</tspan><tspan x="-167.96" textLength="4.27" lengthAdjust="spacingAndGlyphs">r</tspan><tspan x="-164.04" textLength="6.01" lengthAdjust="spacingAndGlyphs">e</tspan><tspan x="-157.88" textLength="6.04" lengthAdjust="spacingAndGlyphs">d</tspan> <tspan x="-148.24" textLength="6.05" lengthAdjust="spacingAndGlyphs">p</tspan><tspan x="-142.00" textLength="5.91" lengthAdjust="spacingAndGlyphs">o</tspan><tspan x="-135.73" textLength="2.27" lengthAdjust="spacingAndGlyphs">l</tspan><tspan x="-132.93" textLength="5.37" lengthAdjust="spacingAndGlyphs">y</tspan><tspan x="-127.14" textLength="9.49" lengthAdjust="spacingAndGlyphs">m</tspan><tspan x="-117.45" textLength="6.01" lengthAdjust="spacingAndGlyphs">e</tspan><tspan x="-111.34" textLength="4.27" lengthAdjust="spacingAndGlyphs">r</tspan> <tspan x="-103.95" textLength="9.49" lengthAdjust="spacingAndGlyphs">m</tspan><tspan x="-94.14" textLength="5.00" lengthAdjust="spacingAndGlyphs">a</tspan><tspan x="-87.96" textLength="4.79" lengthAdjust="spacingAndGlyphs">s</tspan><tspan x="-82.75" textLength="4.79" lengthAdjust="spacingAndGlyphs">s</tspan> <tspan x="-74.64" textLength="3.37" lengthAdjust="spacingAndGlyphs">/</tspan> <tspan x="-67.94" textLength="9.49" lengthAdjust="spacingAndGlyphs">m</tspan><tspan x="-58.25" textLength="6.04" lengthAdjust="spacingAndGlyphs">g</tspan></text>
<text y="0" font-size="10.60"  transform="translate(-3.410,0) scale(0.9876,1)"><tspan x="-257.77" textLength="6.91" lengthAdjust="spacingAndGlyphs">R</tspan><tspan x="-251.38" textLength="6.01" lengthAdjust="spacingAndGlyphs">e</tspan><tspan x="-245.04" textLength="4.79" lengthAdjust="spacingAndGlyphs">s</tspan><tspan x="-239.85" textLength="2.27" lengthAdjust="spacingAndGlyphs">i</tspan><tspan x="-237.23" textLength="6.04" lengthAdjust="spacingAndGlyphs">d</tspan><tspan x="-230.83" textLength="6.00" lengthAdjust="spacingAndGlyphs">u</tspan><tspan x="-224.42" textLength="5.00" lengthAdjust="spacingAndGlyphs">a</tspan><tspan x="-218.26" textLength="2.27" lengthAdjust="spacingAndGlyphs">l</tspan><tspan x="-215.46" textLength="4.79" lengthAdjust="spacingAndGlyphs">s</tspan></text>
</g>
<text y="9.2" font-size="10.60" ><tspan x="67.58" textLength="6.70" lengthAdjust="spacingAndGlyphs">C</tspan><tspan x="74.69" textLength="5.00" lengthAdjust="spacingAndGlyphs">a</tspan><tspan x="80.85" textLength="2.27" lengthAdjust="spacingAndGlyphs">l</tspan><tspan x="83.64" textLength="2.27" lengthAdjust="spacingAndGlyphs">i</tspan><tspan x="86.36" textLength="6.05" lengthAdjust="spacingAndGlyphs">b</tspan><tspan x="92.56" textLength="4.27" lengthAdjust="spacingAndGlyphs">r</tspan><tspan x="96.83" textLength="5.00" lengthAdjust="spacingAndGlyphs">a</tspan><tspan x="102.81" textLength="3.71" lengthAdjust="spacingAndGlyphs">t</tspan><tspan x="106.92" textLength="2.27" lengthAdjust="spacingAndGlyphs">i</tspan><tspan x="109.55" textLength="5.91" lengthAdjust="spacingAndGlyphs">o</tspan><tspan x="115.75" textLength="6.00" lengthAdjust="spacingAndGlyphs">n</tspan></text>
<text y="9.2" font-size="10.60" ><tspan x="172.18" textLength="6.77" lengthAdjust="spacingAndGlyphs">V</tspan><tspan x="178.43" textLength="5.00" lengthAdjust="spacingAndGlyphs">a</tspan><tspan x="184.59" textLength="2.27" lengthAdjust="spacingAndGlyphs">l</tspan><tspan x="187.38" textLength="2.27" lengthAdjust="spacingAndGlyphs">i</tspan><tspan x="189.99" textLength="6.04" lengthAdjust="spacingAndGlyphs">d</tspan><tspan x="196.46" textLength="5.00" lengthAdjust="spacingAndGlyphs">a</tspan><tspan x="202.44" textLength="3.71" lengthAdjust="spacingAndGlyphs">t</tspan><tspan x="206.55" textLength="2.27" lengthAdjust="spacingAndGlyphs">i</tspan><tspan x="209.17" textLength="5.91" lengthAdjust="spacingAndGlyphs">o</tspan><tspan x="215.38" textLength="6.00" lengthAdjust="spacingAndGlyphs">n</tspan></text>
</g>
<circle cx="49.05" cy="5.8" r="2.6" fill="#1f77b4"/>
<circle cx="152.9" cy="5.8" r="2.6" fill="#ff7f0e"/>
<rect x="52.0" y="42.6" width="86.4" height="18.0" rx="2" ry="2" fill="#fff" fill-opacity="0.8" stroke="#cccccc" stroke-width="1"/>
<line x1="55.5" y1="51.1" x2="77.0" y2="51.1" stroke="#0000ff" stroke-width="1.5" stroke-opacity="0.88"/>
<g font-family="'Liberation Sans', sans-serif" fill="#000" stroke="#000" stroke-width="0.25">
<text y="54.2" font-size="10.60" ><tspan x="84.92" textLength="6.91" lengthAdjust="spacingAndGlyphs">R</tspan></text>
<text y="50.4" font-size="7.84" ><tspan x="91.92" textLength="4.18" lengthAdjust="spacingAndGlyphs">2</tspan></text>
<rect x="101.0" y="50.3" width="6.2" height="0.9" stroke="none"/>
<rect x="101.0" y="52.3" width="6.2" height="0.9" stroke="none"/>
<text y="54.2" font-size="10.60" ><tspan x="111.79" textLength="5.86" lengthAdjust="spacingAndGlyphs">0</tspan><tspan x="117.98" textLength="3.01" lengthAdjust="spacingAndGlyphs">.</tspan><tspan x="121.20" textLength="6.06" lengthAdjust="spacingAndGlyphs">9</tspan><tspan x="127.66" textLength="5.93" lengthAdjust="spacingAndGlyphs">8</tspan></text>
</g>
<rect x="252.4" y="42.6" width="86.4" height="18.0" rx="2" ry="2" fill="#fff" fill-opacity="0.8" stroke="#cccccc" stroke-width="1"/>
<line x1="255.9" y1="51.1" x2="277.4" y2="51.1" stroke="#0000ff" stroke-width="1.5" stroke-opacity="0.88"/>
<g font-family="'Liberation Sans', sans-serif" fill="#000" stroke="#000" stroke-width="0.25">
<text y="54.2" font-size="10.60" ><tspan x="285.32" textLength="6.91" lengthAdjust="spacingAndGlyphs">R</tspan></text>
<text y="50.4" font-size="7.84" ><tspan x="292.32" textLength="4.18" lengthAdjust="spacingAndGlyphs">2</tspan></text>
<rect x="301.4" y="50.3" width="6.2" height="0.9" stroke="none"/>
<rect x="301.4" y="52.3" width="6.2" height="0.9" stroke="none"/>
<text y="54.2" font-size="10.60" ><tspan x="312.19" textLength="5.86" lengthAdjust="spacingAndGlyphs">0</tspan><tspan x="318.38" textLength="3.01" lengthAdjust="spacingAndGlyphs">.</tspan><tspan x="321.60" textLength="6.06" lengthAdjust="spacingAndGlyphs">9</tspan><tspan x="328.06" textLength="5.93" lengthAdjust="spacingAndGlyphs">8</tspan></text>
</g>
<rect x="452.8" y="42.6" width="86.4" height="18.0" rx="2" ry="2" fill="#fff" fill-opacity="0.8" stroke="#cccccc" stroke-width="1"/>
<line x1="456.3" y1="51.1" x2="477.8" y2="51.1" stroke="#0000ff" stroke-width="1.5" stroke-opacity="0.88"/>
<g font-family="'Liberation Sans', sans-serif" fill="#000" stroke="#000" stroke-width="0.25">
<text y="54.2" font-size="10.60" ><tspan x="485.72" textLength="6.91" lengthAdjust="spacingAndGlyphs">R</tspan></text>
<text y="50.4" font-size="7.84" ><tspan x="492.72" textLength="4.18" lengthAdjust="spacingAndGlyphs">2</tspan></text>
<rect x="501.8" y="50.3" width="6.2" height="0.9" stroke="none"/>
<rect x="501.8" y="52.3" width="6.2" height="0.9" stroke="none"/>
<text y="54.2" font-size="10.60" ><tspan x="512.59" textLength="5.86" lengthAdjust="spacingAndGlyphs">0</tspan><tspan x="518.78" textLength="3.01" lengthAdjust="spacingAndGlyphs">.</tspan><tspan x="522.00" textLength="6.06" lengthAdjust="spacingAndGlyphs">9</tspan><tspan x="528.62" textLength="5.53" lengthAdjust="spacingAndGlyphs">5</tspan></text>
</g>
</svg>
</body></html>
